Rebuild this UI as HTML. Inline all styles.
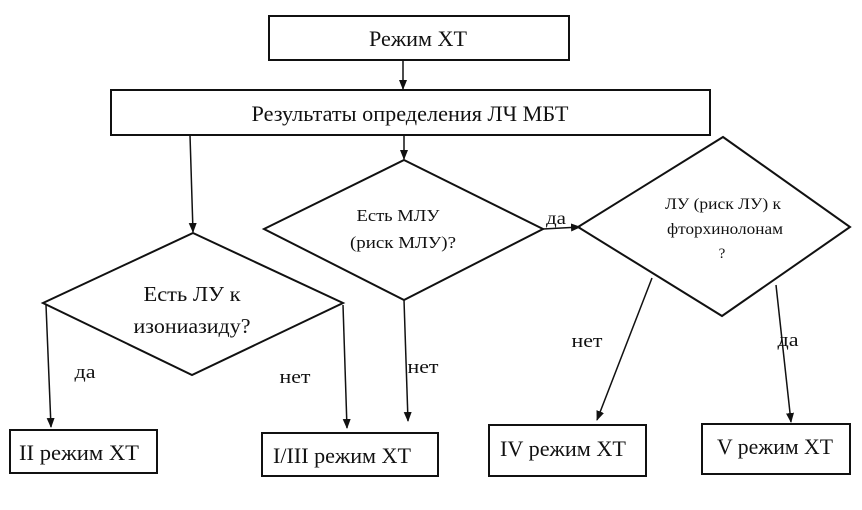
<!DOCTYPE html>
<html><head><meta charset="utf-8"><style>
html,body{margin:0;padding:0;background:#fff;}
svg{display:block;}
text{font-family:"Liberation Serif","Noto Serif CJK SC",serif;fill:#111;text-anchor:middle;}
</style></head><body>
<svg width="862" height="510" viewBox="0 0 862 510" xmlns="http://www.w3.org/2000/svg">
<defs><marker id="a" markerWidth="10" markerHeight="10" refX="9" refY="5" orient="auto" markerUnits="userSpaceOnUse"><path d="M0,1 L10,5 L0,9 Z" fill="#111"/></marker></defs>
<g fill="none" stroke="#111" stroke-width="2">
<rect x="269" y="16" width="300" height="44"/>
<rect x="111" y="90" width="599" height="45"/>
<polygon points="193,233 343,303 192,375 43,303"/>
<polygon points="404,160 543,229 404,300 264,229"/>
<polygon points="723,137 850,227 722,316 578,227"/>
<rect x="10" y="430" width="147" height="43"/>
<rect x="262" y="433" width="176" height="43"/>
<rect x="489" y="425" width="157" height="51"/>
<rect x="702" y="424" width="148" height="50"/>
</g>
<g stroke="#111" stroke-width="1.5" marker-end="url(#a)">
<line x1="403" y1="60" x2="403" y2="89"/>
<line x1="190" y1="135" x2="193" y2="232"/>
<line x1="404" y1="135" x2="404" y2="159"/>
<line x1="543" y1="229" x2="580" y2="227"/>
<line x1="46" y1="305" x2="51" y2="427"/>
<line x1="343" y1="305" x2="347" y2="428"/>
<line x1="404" y1="300" x2="408" y2="421"/>
<line x1="652" y1="278" x2="597" y2="420"/>
<line x1="776" y1="285" x2="791" y2="422"/>
</g>
<g lengthAdjust="spacingAndGlyphs">
<text x="418" y="46" font-size="22" textLength="98" lengthAdjust="spacingAndGlyphs">Режим ХТ</text>
<text x="410" y="121" font-size="22" textLength="317" lengthAdjust="spacingAndGlyphs">Результаты определения ЛЧ МБТ</text>
<text x="192" y="301" font-size="21" textLength="97" lengthAdjust="spacingAndGlyphs">Есть ЛУ к</text>
<text x="192" y="333" font-size="21" textLength="117" lengthAdjust="spacingAndGlyphs">изониазиду?</text>
<text x="398" y="221" font-size="17" textLength="83" lengthAdjust="spacingAndGlyphs">Есть МЛУ</text>
<text x="403" y="248" font-size="17" textLength="106" lengthAdjust="spacingAndGlyphs">(риск МЛУ)?</text>
<text x="723" y="209" font-size="16" textLength="116" lengthAdjust="spacingAndGlyphs">ЛУ (риск ЛУ) к</text>
<text x="725" y="234" font-size="16" textLength="116" lengthAdjust="spacingAndGlyphs">фторхинолонам</text>
<text x="722" y="258" font-size="15">?</text>
<text x="556" y="224" font-size="18" textLength="20" lengthAdjust="spacingAndGlyphs">да</text>
<text x="85" y="378" font-size="19" textLength="21" lengthAdjust="spacingAndGlyphs">да</text>
<text x="295" y="383" font-size="19" textLength="31" lengthAdjust="spacingAndGlyphs">нет</text>
<text x="423" y="373" font-size="19" textLength="31" lengthAdjust="spacingAndGlyphs">нет</text>
<text x="587" y="347" font-size="19" textLength="31" lengthAdjust="spacingAndGlyphs">нет</text>
<text x="788" y="346" font-size="19" textLength="21" lengthAdjust="spacingAndGlyphs">да</text>
<text x="79" y="460" font-size="22" textLength="120" lengthAdjust="spacingAndGlyphs">II режим ХТ</text>
<text x="342" y="463" font-size="22" textLength="138" lengthAdjust="spacingAndGlyphs">I/III режим ХТ</text>
<text x="563" y="456" font-size="22" textLength="126" lengthAdjust="spacingAndGlyphs">IV режим ХТ</text>
<text x="775" y="454" font-size="22" textLength="116" lengthAdjust="spacingAndGlyphs">V режим ХТ</text>
</g>
</svg>
</body></html>
